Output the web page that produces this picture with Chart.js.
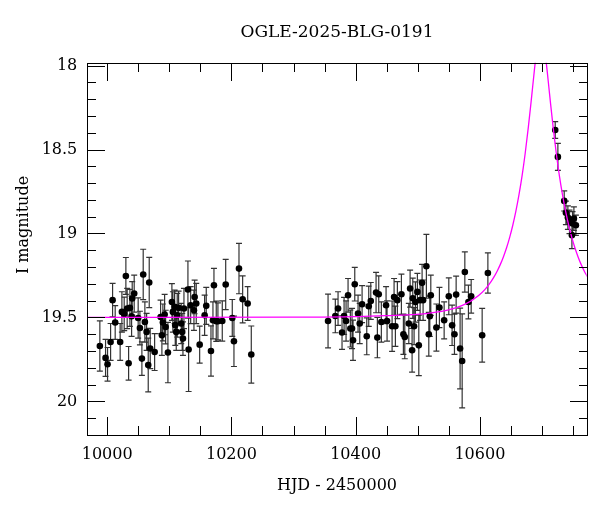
<!DOCTYPE html>
<html>
<head>
<meta charset="utf-8">
<script src="https://cdn.jsdelivr.net/npm/chart.js@4.4.1/dist/chart.umd.min.js"></script>
<style>
  html, body { margin: 0; padding: 0; background: #fff; }
  #wrap { width: 600px; height: 512px; }
</style>
</head>
<body>
<div id="wrap"><canvas id="lc"></canvas></div>
<script>
// OGLE photometry: HJD - 2450000, I mag, error
const hjd = [
  9988.2, 9997.4, 10000.6, 10005.5, 10008.7, 10012.9, 10020.9, 10023.7, 10027.4, 10030.1,
  10032.2, 10034.5, 10036.6, 10039.3, 10040.3, 10043.5, 10049.9, 10052.7, 10055.9, 10058.0,
  10060.7, 10063.5, 10066.1, 10067.7, 10069.3, 10076.4, 10086.0, 10088.1, 10089.7, 10092.5,
  10094.1, 10097.8, 10104.2, 10105.8, 10108.6, 10109.6, 10111.2, 10112.8, 10115.0, 10119.2,
  10120.8, 10122.0, 10123.6, 10130.0, 10131.1, 10134.4, 10139.7, 10140.8, 10143.4, 10148.9,
  10156.9, 10159.5, 10167.1, 10170.3, 10171.9, 10175.6, 10178.3, 10185.3, 10190.8, 10201.4,
  10204.1, 10212.2, 10218.1, 10226.2, 10232.0,
  10355.6, 10367.3, 10371.7, 10378.1, 10381.4, 10384.6, 10387.8, 10391.5, 10394.2, 10395.8,
  10398.6, 10403.9, 10406.6, 10410.4, 10417.9, 10421.1, 10424.4, 10432.9, 10435.0, 10437.2,
  10441.4, 10449.0, 10450.6, 10458.7, 10461.9, 10464.0, 10467.2, 10473.7, 10476.9, 10479.1,
  10485.6, 10487.7, 10490.9, 10492.0, 10494.1, 10496.2, 10499.4, 10501.7, 10503.8, 10507.0,
  10508.6, 10513.9, 10517.8, 10519.4, 10521.0, 10530.0, 10534.9, 10542.5, 10550.0, 10555.3,
  10559.1, 10561.8, 10568.2, 10571.5, 10575.8, 10581.6, 10586.0, 10603.7, 10612.9,
  10721.3, 10725.6, 10735.8, 10738.5, 10741.7, 10744.3, 10748.2, 10749.2, 10751.4, 10754.6
];
const mag = [
  19.670, 19.741, 19.779, 19.646, 19.397, 19.530, 19.646, 19.467, 19.479, 19.253,
  19.447, 19.773, 19.443, 19.493, 19.387, 19.358, 19.503, 19.563, 19.745, 19.244,
  19.527, 19.586, 19.783, 19.292, 19.685, 19.706, 19.497, 19.606, 19.530, 19.483,
  19.557, 19.709, 19.408, 19.467, 19.437, 19.546, 19.586, 19.487, 19.443, 19.536,
  19.586, 19.626, 19.447, 19.334, 19.691, 19.427, 19.457, 19.378, 19.417, 19.662,
  19.487, 19.431, 19.700, 19.517, 19.308, 19.523, 19.523, 19.521, 19.304, 19.503,
  19.642, 19.209, 19.392, 19.417, 19.721,
  19.521, 19.491, 19.447, 19.590, 19.491, 19.521, 19.368, 19.566, 19.566, 19.636,
  19.302, 19.477, 19.536, 19.421, 19.612, 19.433, 19.402, 19.352, 19.620, 19.362,
  19.527, 19.427, 19.521, 19.552, 19.378, 19.552, 19.397, 19.362, 19.600, 19.616,
  19.536, 19.328, 19.695, 19.386, 19.552, 19.408, 19.348, 19.666, 19.397, 19.294,
  19.397, 19.195, 19.600, 19.493, 19.368, 19.560, 19.441, 19.517, 19.374, 19.547,
  19.600, 19.364, 19.685, 19.759, 19.229, 19.408, 19.374, 19.606, 19.235,
  18.384, 18.544, 18.806, 18.877, 18.905, 18.931, 19.010, 18.940, 18.911, 18.951
];
const magErr = [
  0.15, 0.11, 0.10, 0.11, 0.10, 0.10, 0.11, 0.12, 0.10, 0.11,
  0.12, 0.10, 0.11, 0.12, 0.10, 0.11, 0.12, 0.10, 0.10, 0.15,
  0.12, 0.11, 0.16, 0.15, 0.12, 0.11, 0.10, 0.12, 0.11, 0.12,
  0.10, 0.18, 0.11, 0.12, 0.10, 0.12, 0.11, 0.13, 0.10, 0.12,
  0.11, 0.10, 0.12, 0.17, 0.25, 0.11, 0.12, 0.10, 0.12, 0.11,
  0.12, 0.11, 0.15, 0.11, 0.10, 0.12, 0.11, 0.12, 0.15, 0.11,
  0.15, 0.15, 0.14, 0.10, 0.17,
  0.16, 0.10, 0.10, 0.10, 0.11, 0.12, 0.10, 0.11, 0.12, 0.12,
  0.10, 0.11, 0.12, 0.11, 0.11, 0.12, 0.11, 0.12, 0.12, 0.11,
  0.12, 0.11, 0.12, 0.15, 0.11, 0.12, 0.11, 0.12, 0.12, 0.13,
  0.12, 0.11, 0.13, 0.12, 0.11, 0.12, 0.11, 0.18, 0.12, 0.11,
  0.12, 0.19, 0.13, 0.12, 0.12, 0.14, 0.12, 0.11, 0.11, 0.12,
  0.12, 0.11, 0.24, 0.28, 0.12, 0.10, 0.10, 0.16, 0.12,
  0.05, 0.08, 0.06, 0.07, 0.07, 0.07, 0.08, 0.07, 0.07, 0.06
];

// microlensing model curve, magenta
const modelHjd = [
  9968, 10298, 10398, 10448, 10498, 10548, 10578, 10598, 10608, 10618,
  10623, 10628, 10633, 10638, 10643, 10648, 10653, 10658, 10663, 10668,
  10673, 10678, 10682, 10685, 10688, 10690, 10693, 10695, 10698, 10701,
  10703, 10706, 10708, 10711, 10714, 10718, 10723, 10728, 10733, 10738,
  10743, 10748, 10753, 10758, 10763, 10768, 10773
];
const modelMag = [
  19.500, 19.498, 19.495, 19.489, 19.482, 19.456, 19.418, 19.369, 19.334, 19.286,
  19.257, 19.223, 19.184, 19.138, 19.085, 19.023, 18.951, 18.867, 18.769, 18.655,
  18.522, 18.368, 18.233, 18.126, 18.020, 17.954, 17.872, 17.834, 17.811, 17.834,
  17.872, 17.954, 18.020, 18.126, 18.233, 18.368, 18.522, 18.655, 18.769, 18.867,
  18.951, 19.023, 19.085, 19.138, 19.184, 19.223, 19.257
];

const xLabelTicks = [10000, 10200, 10400, 10600];
const yLabelTicks = [18, 18.5, 19, 19.5, 20];

const serif = '"DejaVu Serif", serif';

// ticks pointing inward on all four sides, plus the box
const frameTicks = {
  id: 'frameTicks',
  afterDraw(chart) {
    const ctx = chart.ctx;
    const a = chart.chartArea;
    const xs = chart.scales.x;
    const ys = chart.scales.y;
    const L = Math.round(a.left), R = Math.round(a.right);
    const T = Math.round(a.top), B = Math.round(a.bottom);
    ctx.save();
    ctx.fillStyle = '#000';
    ctx.fillRect(L, T, R - L + 1, 1);
    ctx.fillRect(L, B, R - L + 1, 1);
    ctx.fillRect(L, T, 1, B - T + 1);
    ctx.fillRect(R, T, 1, B - T + 1);
    for (let v = 10000; v <= 10772; v += 50) {
      const px = Math.round(xs.getPixelForValue(v));
      const len = v % 200 === 0 ? 18 : 9;
      ctx.fillRect(px, B - len, 1, len);
      ctx.fillRect(px, T, 1, len);
    }
    for (let i = 180; i <= 202; i++) {
      const py = Math.round(ys.getPixelForValue(i / 10));
      const len = i % 5 === 0 ? 18 : 9;
      ctx.fillRect(L, py, len, 1);
      ctx.fillRect(R - len + 1, py, len, 1);
    }
    ctx.restore();
  }
};

// error bars with caps, drawn under the dots
const errorBars = {
  id: 'errorBars',
  beforeDatasetsDraw(chart) {
    const { ctx, chartArea: a, scales: { x, y } } = chart;
    ctx.save();
    ctx.beginPath();
    ctx.rect(a.left, a.top, a.right - a.left, a.bottom - a.top);
    ctx.clip();
    ctx.strokeStyle = '#333';
    ctx.lineWidth = 1.2;
    ctx.beginPath();
    hjd.forEach((t, i) => {
      const px = x.getPixelForValue(t);
      const y1 = y.getPixelForValue(mag[i] - magErr[i]);
      const y2 = y.getPixelForValue(mag[i] + magErr[i]);
      ctx.moveTo(px, y1); ctx.lineTo(px, y2);
      ctx.moveTo(px - 3, y1); ctx.lineTo(px + 3, y1);
      ctx.moveTo(px - 3, y2); ctx.lineTo(px + 3, y2);
    });
    ctx.stroke();
    ctx.restore();
  }
};

// title and rotated y label
const labels = {
  id: 'labels',
  afterDraw(chart) {
    const { ctx, chartArea: a } = chart;
    ctx.save();
    ctx.fillStyle = '#000';
    ctx.textAlign = 'center';
    ctx.textBaseline = 'middle';
    ctx.font = '17px ' + serif;
    ctx.fillText('OGLE-2025-BLG-0191', (a.left + a.right) / 2, 33);
    ctx.translate(24, 225);
    ctx.rotate(-Math.PI / 2);
    ctx.font = '16px ' + serif;
    ctx.fillText('I magnitude', 0, 0);
    ctx.restore();
  }
};

new Chart(document.getElementById('lc'), {
  type: 'scatter',
  data: {
    datasets: [
      {
        label: 'model',
        data: modelHjd.map((t, i) => ({ x: t, y: modelMag[i] })),
        showLine: true,
        borderColor: '#ff00ff',
        borderWidth: 1.3,
        pointRadius: 0,
        cubicInterpolationMode: 'monotone',
        fill: false
      },
      {
        label: 'OGLE I',
        data: hjd.map((t, i) => ({ x: t, y: mag[i] })),
        backgroundColor: '#000',
        borderColor: '#000',
        pointRadius: 3.3,
        pointBorderWidth: 0
      }
    ]
  },
  plugins: [errorBars, frameTicks, labels],
  options: {
    responsive: true,
    maintainAspectRatio: false,
    animation: false,
    layout: { padding: { left: 0, right: 13.3, top: 62.7, bottom: 0 } },
    plugins: { legend: { display: false }, tooltip: { enabled: false }, title: { display: false } },
    scales: {
      x: {
        type: 'linear',
        min: 9968,
        max: 10772,
        afterBuildTicks: axis => { axis.ticks = xLabelTicks.map(v => ({ value: v })); },
        afterFit: axis => { axis.height = 77; },
        grid: { display: false, drawTicks: false },
        border: { display: false },
        ticks: {
          callback: v => String(v),
          color: '#000',
          padding: 10,
          maxRotation: 0,
          font: { family: serif, size: 16 }
        },
        title: {
          display: true,
          text: 'HJD - 2450000',
          color: '#000',
          padding: { top: 0, bottom: 17 },
          font: { family: serif, size: 16 }
        }
      },
      y: {
        type: 'linear',
        reverse: true,
        min: 17.983,
        max: 20.2,
        afterBuildTicks: axis => { axis.ticks = yLabelTicks.map(v => ({ value: v })); },
        afterFit: axis => { axis.width = 87.3; },
        grid: { display: false, drawTicks: false },
        border: { display: false },
        ticks: {
          callback: v => String(v),
          color: '#000',
          padding: 10,
          font: { family: serif, size: 16 }
        }
      }
    }
  }
});
</script>
</body>
</html>
